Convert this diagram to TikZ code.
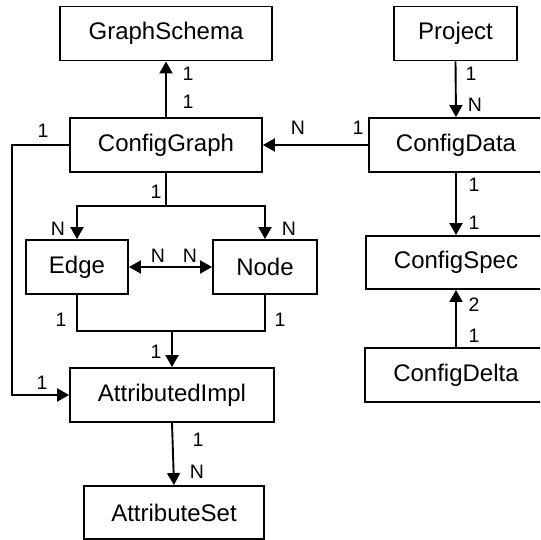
\documentclass[tikz,border=0pt]{standalone}
\usepackage{fontspec}
\setmainfont{Liberation Sans}
\usetikzlibrary{arrows.meta}
\begin{document}
\begin{tikzpicture}[x=1pt,y=-1pt,
  box/.style={draw,line width=1.9pt,inner sep=0pt,minimum height=54pt,font=\fontsize{24}{24}\selectfont},
  lab/.style={inner sep=0pt,font=\fontsize{19.5}{19.5}\selectfont},
  conn/.style={line width=1.9pt},
  arr/.style={conn,-{Triangle[length=12pt,width=13pt]}},
  darr/.style={conn,{Triangle[length=12pt,width=13pt]}-{Triangle[length=12pt,width=13pt]}}]
\clip (0,0) rectangle (540,540);
\fill[white] (0,0) rectangle (540,540);
% boxes
\node[box,minimum width=212pt] (gs) at (166,33.5) {GraphSchema};
\node[box,minimum width=192pt] (cg) at (166,145) {ConfigGraph};
\node[box,minimum width=123pt] (pr) at (455.5,33.5) {Project};
\node[box,minimum width=174pt] (cd) at (456,145) {ConfigData};
\node[box,minimum width=102pt] (ed) at (77,267) {Edge};
\node[box,minimum width=104pt] (nd) at (265,267) {Node};
\node[box,minimum width=180pt,minimum height=53pt] (cs) at (456,262.5) {ConfigSpec};
\node[box,minimum width=182pt] (cdl) at (456,375) {ConfigDelta};
\node[box,minimum width=204pt] (ai) at (172,395) {AttributedImpl};
\node[box,minimum width=180pt,minimum height=53pt] (as) at (174,512.5) {AttributeSet};
% helper coordinates
\coordinate (split) at (166,206);
\coordinate (join) at (172,331);
\coordinate (lefttop) at (12,145);
\coordinate (leftbot) at (12,395);
% connectors
\draw[arr] (cg.north) -- (gs.south);
\draw[arr] (cd.west) -- (cg.east);
\draw[arr] (pr.south) -- (cd.north);
\draw[arr] (cd.south) -- (cs.north);
\draw[arr] (cdl.north) -- (cs.south);
\draw[conn] (cg.south) -- (split);
\draw[arr] (split) -| (ed.north);
\draw[arr] (split) -| (nd.north);
\draw[darr] (ed.east) -- (nd.west);
\draw[conn] (ed.south) |- (join) -| (nd.south);
\draw[arr] (join) -- (ai.north);
\draw[arr] (cg.west) -- (lefttop) -- (leftbot) -- (ai.west);
\draw[arr] (ai.south) -- (as.north);
% labels
\node[lab] (l1) at (188,74) {1};
\node[lab] (l2) at (188,102) {1};
\node[lab] (l3) at (43,131) {1};
\node[lab] (l4) at (156,192) {1};
\node[lab] (l5) at (298,128) {N};
\node[lab] (l6) at (358,128) {1};
\node[lab] (l7) at (471,74) {1};
\node[lab] (l8) at (475,105) {N};
\node[lab] (l9) at (474,185) {1};
\node[lab] (l10) at (474,223) {1};
\node[lab] (l11) at (474,305) {2};
\node[lab] (l12) at (474,336) {1};
\node[lab] (l13) at (58,229) {N};
\node[lab] (l14) at (289,229) {N};
\node[lab] (l15) at (158,256) {N};
\node[lab] (l16) at (190,256) {N};
\node[lab] (l17) at (61,320) {1};
\node[lab] (l18) at (280,320) {1};
\node[lab] (l19) at (156,352) {1};
\node[lab] (l20) at (42,383) {1};
\node[lab] (l21) at (198,440) {1};
\node[lab] (l22) at (197,472) {N};
\end{tikzpicture}
\end{document}
